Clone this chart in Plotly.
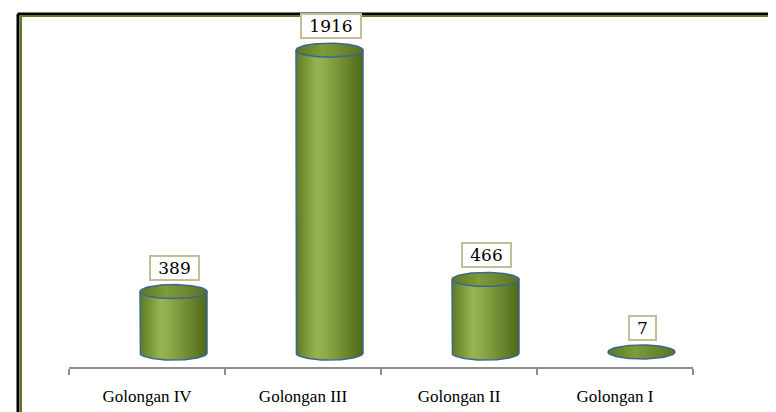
import numpy as np
import plotly.graph_objects as go

categories = ["Golongan IV", "Golongan III", "Golongan II", "Golongan I"]
values = [389, 1916, 466, 7]
value_labels = ["389", "1916", "466", "7"]

W, H = 776, 412
M = dict(l=61, r=91, t=8, b=53)
plot_w = W - M["l"] - M["r"]
plot_h = H - M["t"] - M["b"]
y_range = [-88, 2132]
pxu = plot_h / (y_range[1] - y_range[0])   # pixels per data unit
pxx = plot_w / 4.0                          # pixels per category

off = 26.5 / pxx      # perspective shift of cylinders
half_w = 33.5 / pxx   # cylinder half width
ell_b = 7.0 / pxu     # ellipse semi-height in data units

body_scale = [[0, "#5E7A22"], [0.3, "#96B452"], [0.45, "#8CAA48"], [1, "#4E6818"]]
top_scale = [[0, "#5C7624"], [0.4, "#7E9C3A"], [1, "#5A7222"]]
outline = "#3E6494"

fig = go.Figure()
t_lo = np.linspace(np.pi, 2 * np.pi, 60)
t_full = np.linspace(0, 2 * np.pi, 120)
for i, v in enumerate(values):
    cx = i + off
    xl, xr = cx - half_w, cx + half_w
    # body
    bx = [xl, xl] + list(cx + half_w * np.cos(t_lo)) + [xr, xr, xl]
    by = [v, 0] + list(ell_b * np.sin(t_lo)) + [0, v, v]
    if v > 20:
        fig.add_trace(go.Scatter(
            x=bx, y=by, mode="lines", fill="toself",
            fillgradient=dict(type="horizontal", colorscale=body_scale),
            line=dict(color=outline, width=1.5), hoverinfo="skip", showlegend=False))
    # top ellipse
    ex = cx + half_w * np.cos(t_full)
    ey = v + ell_b * np.sin(t_full)
    fig.add_trace(go.Scatter(
        x=ex, y=ey, mode="lines", fill="toself",
        fillgradient=dict(type="horizontal", colorscale=top_scale),
        line=dict(color=outline, width=1.5), hoverinfo="skip", showlegend=False))
    fig.add_annotation(
        x=cx, y=v, text=value_labels[i], showarrow=False,
        yanchor="bottom", yshift=11, xshift=1,
        width=11 * len(value_labels[i]) + 12,
        font=dict(family="DejaVu Serif", size=17, color="#000000"),
        bgcolor="#FFFFFF", bordercolor="#C4BD97", borderwidth=2, borderpad=1)

fig.update_xaxes(
    range=[-0.5, 3.5], tickmode="array", tickvals=list(range(len(categories))),
    ticktext=categories, ticks="", showgrid=False, zeroline=False,
    showline=True, linecolor="#8C8C8C", linewidth=2,
    ticklabelstandoff=13,
    tickfont=dict(family="Liberation Serif", size=17, color="#000000"),
    minor=dict(tickmode="linear", tick0=-0.5, dtick=1, ticks="outside",
               ticklen=6, tickcolor="#8C8C8C", tickwidth=2, showgrid=False),
    fixedrange=True)
fig.update_yaxes(range=y_range, visible=False, showgrid=False, zeroline=False, fixedrange=True)

# frame lines (paper coordinates converted from pixels)
def px_x(p):
    return (p - M["l"]) / plot_w

def px_y(p):
    return (H - M["b"] - p) / plot_h

frame = [
    (9.5, 6, W, 6, "#000000", 3),
    (10, 6, 10, H, "#000000", 3),
    (13, 8, W, 8, "#5E7A22", 2),
    (13, 8, 13, H, "#5E7A22", 2),
]
for x0, y0, x1, y1, c, w in frame:
    fig.add_shape(type="line", xref="paper", yref="paper",
                  x0=px_x(x0), y0=px_y(y0), x1=px_x(x1), y1=px_y(y1),
                  line=dict(color=c, width=w), layer="above")

fig.update_layout(
    width=W, height=H, margin=M,
    paper_bgcolor="#FFFFFF", plot_bgcolor="#FFFFFF",
    showlegend=False)

fig.write_html("out.html", config={"displayModeBar": False})
